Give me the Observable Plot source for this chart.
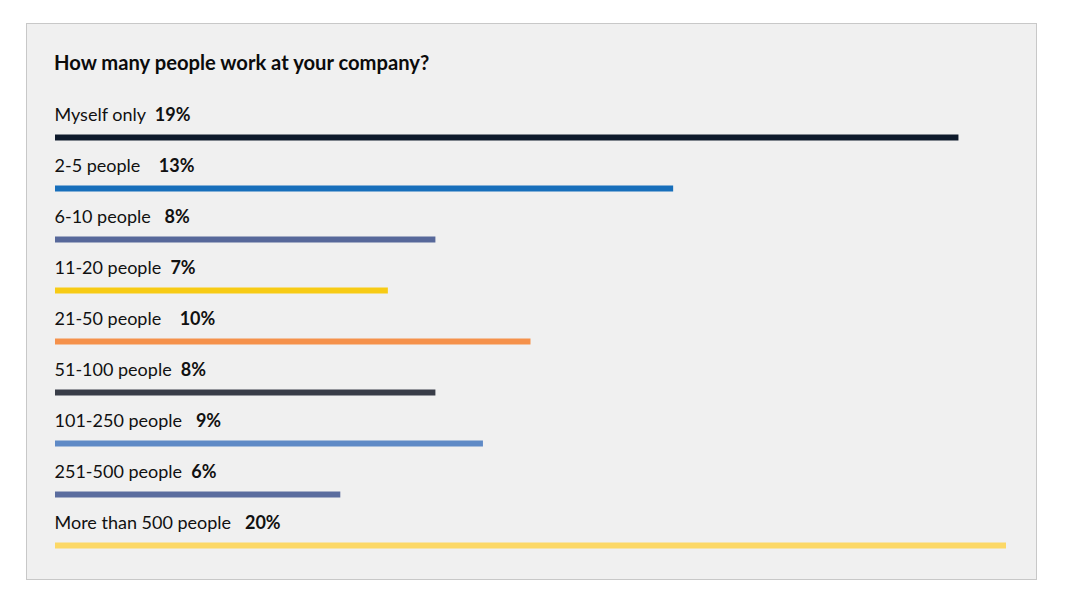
<!DOCTYPE html>
<html>
<head>
<meta charset="utf-8">
<script src="https://cdn.jsdelivr.net/npm/d3@7"></script>
<script src="https://cdn.jsdelivr.net/npm/@observablehq/plot@0.6"></script>
<style>
  html, body { margin: 0; padding: 0; background: #ffffff; }
  #panel {
    position: absolute; left: 26px; top: 23px; width: 1011px; height: 557px;
    box-sizing: border-box; border: 1px solid #c8c8c8; background: #f0f0f0;
    font-family: Lato, "Noto Sans", sans-serif;
  }
  #title {
    position: absolute; left: 27px; top: 26px; margin: 0;
    font-size: 20.2px; font-weight: 700; color: #0b0b0b;
  }
  #chart { position: absolute; left: 0; top: 60px; }
  #chart text { white-space: pre; }
</style>
</head>
<body>
<div id="panel">
  <div id="title">How many people work at your company?</div>
  <div id="chart"></div>
</div>
<script>
const categories = ["Myself only", "2-5 people", "6-10 people", "11-20 people", "21-50 people", "51-100 people", "101-250 people", "251-500 people", "More than 500 people"];
const gaps = ["  ", "    ", "   ", "  ", "    ", "  ", "   ", "  ", "   "];
const values = [19, 13, 8, 7, 10, 8, 9, 6, 20];
const colors = ["#0e1a2b", "#176fbb", "#57689a", "#f7cb15", "#f5914b", "#393d48", "#5f8ac6", "#5a6c9e", "#fcd866"];

const data = categories.map((c, i) => ({category: c, gap: gaps[i], value: values[i], color: colors[i]}));

const plot = Plot.plot({
  width: 1009,
  height: 495,
  marginLeft: 28,
  marginRight: 30,
  marginTop: 53,
  marginBottom: 34,
  x: {domain: [0, 20], axis: null},
  y: {type: "point", domain: categories, padding: 0, axis: null},
  style: {background: "transparent", fontFamily: "Lato, 'Noto Sans', sans-serif"},
  marks: [
    Plot.ruleY(data, {y: "category", x1: 0, x2: "value", stroke: "color", strokeWidth: 6}),
    Plot.text(data, {
      x: 0, y: "category", dy: -22, dx: -1,
      text: d => d.category + d.gap + d.value + "%",
      textAnchor: "start", fontSize: 18, fill: "#111111",
      className: "rowlabel"
    })
  ]
});
document.getElementById("chart").appendChild(plot);

// Style the percentage part of each label in bold
d3.select(plot).selectAll(".rowlabel text").each(function(d, i) {
  const row = data[i];
  const t = d3.select(this);
  t.text(null);
  t.append("tspan").text(row.category + row.gap);
  t.append("tspan").attr("font-weight", 700).text(row.value + "%");
});
</script>
</body>
</html>
